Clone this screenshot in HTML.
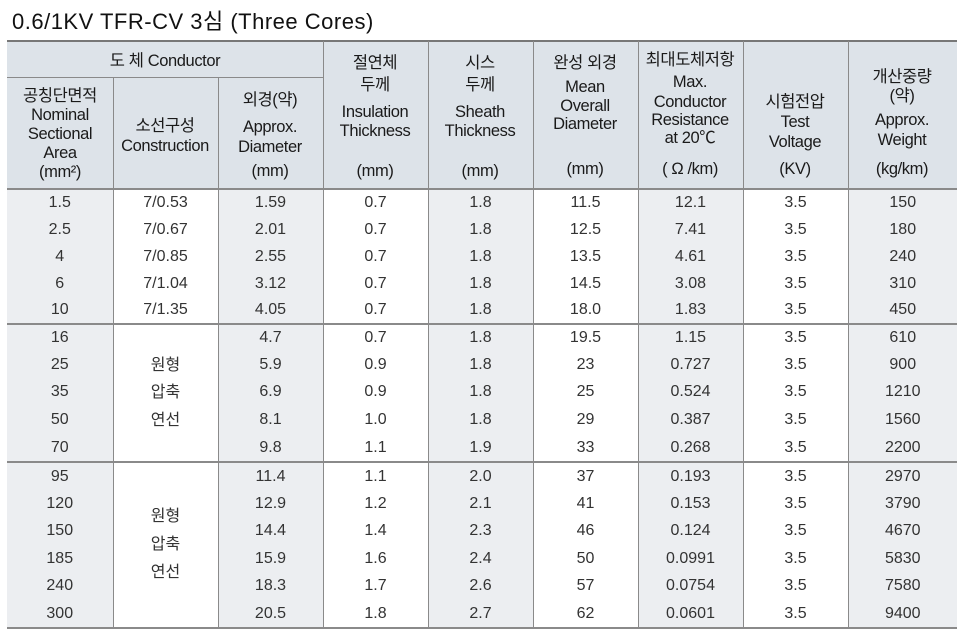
<!DOCTYPE html>
<html><head><meta charset="utf-8"><style>
body{margin:0;width:960px;height:632px;background:#fff;position:relative;overflow:hidden;font-family:"Liberation Sans","Noto Sans CJK KR",sans-serif;color:#222}
.t{position:absolute;left:12px;top:4px;font-size:22px;letter-spacing:0.5px;color:#111;white-space:nowrap}
.hd{position:absolute;left:7px;top:40px;width:950px;height:148px;background:#dde3e9;border-top:2px solid #777;box-sizing:border-box}
.v{position:absolute;width:1px;background:#8a8a8a}
.h{position:absolute;height:1px;background:#8a8a8a}
.l{position:absolute;font-size:16.5px;line-height:18px;transform:translate(-50%,-50%);white-space:nowrap;color:#1a1a1a;letter-spacing:-0.4px}
table{position:absolute;left:7px;top:188px;width:950px;border-collapse:collapse;table-layout:fixed;font-size:16px;color:#333}
td{text-align:center;padding:0;border-left:1px solid #8a8a8a;line-height:18px}
td:first-child{border-left:none}
tbody{border-top:2px solid #8a8a8a}
tbody:last-child{border-bottom:2px solid #8a8a8a}
.g{background:#eceef1}
</style></head><body>
<div class="t">0.6/1KV TFR-CV 3심 (Three Cores)</div>
<div class="hd"></div>
<div class="h" style="left:7px;top:77px;width:316px"></div>
<div class="v" style="left:113px;top:77px;height:111px"></div>
<div class="v" style="left:218px;top:77px;height:111px"></div>
<div class="v" style="left:323px;top:41px;height:147px"></div>
<div class="v" style="left:428px;top:41px;height:147px"></div>
<div class="v" style="left:533px;top:41px;height:147px"></div>
<div class="v" style="left:638px;top:41px;height:147px"></div>
<div class="v" style="left:743px;top:41px;height:147px"></div>
<div class="v" style="left:848px;top:41px;height:147px"></div>

<div class="l" style="left:165px;top:61px">도 체 Conductor</div>
<div class="l" style="left:60px;top:96px">공칭단면적</div>
<div class="l" style="left:60px;top:115px">Nominal</div>
<div class="l" style="left:60px;top:134px">Sectional</div>
<div class="l" style="left:60px;top:153px">Area</div>
<div class="l" style="left:60px;top:172px">(mm²)</div>
<div class="l" style="left:165px;top:126px">소선구성</div>
<div class="l" style="left:165px;top:146px">Construction</div>
<div class="l" style="left:270px;top:100px">외경(약)</div>
<div class="l" style="left:270px;top:127px">Approx.</div>
<div class="l" style="left:270px;top:147px">Diameter</div>
<div class="l" style="left:270px;top:171px">(mm)</div>
<div class="l" style="left:375px;top:63px">절연체</div>
<div class="l" style="left:375px;top:85px">두께</div>
<div class="l" style="left:375px;top:112px">Insulation</div>
<div class="l" style="left:375px;top:131px">Thickness</div>
<div class="l" style="left:375px;top:171px">(mm)</div>
<div class="l" style="left:480px;top:63px">시스</div>
<div class="l" style="left:480px;top:85px">두께</div>
<div class="l" style="left:480px;top:112px">Sheath</div>
<div class="l" style="left:480px;top:131px">Thickness</div>
<div class="l" style="left:480px;top:171px">(mm)</div>
<div class="l" style="left:585px;top:63px">완성 외경</div>
<div class="l" style="left:585px;top:87px">Mean</div>
<div class="l" style="left:585px;top:106px">Overall</div>
<div class="l" style="left:585px;top:124px">Diameter</div>
<div class="l" style="left:585px;top:169px">(mm)</div>
<div class="l" style="left:690px;top:60px">최대도체저항</div>
<div class="l" style="left:690px;top:82px">Max.</div>
<div class="l" style="left:690px;top:102px">Conductor</div>
<div class="l" style="left:690px;top:120px">Resistance</div>
<div class="l" style="left:690px;top:138px">at 20℃</div>
<div class="l" style="left:690px;top:169px">( Ω /km)</div>
<div class="l" style="left:795px;top:102px">시험전압</div>
<div class="l" style="left:795px;top:122px">Test</div>
<div class="l" style="left:795px;top:142px">Voltage</div>
<div class="l" style="left:795px;top:169px">(KV)</div>
<div class="l" style="left:902px;top:77px">개산중량</div>
<div class="l" style="left:902px;top:96px">(약)</div>
<div class="l" style="left:902px;top:120px">Approx.</div>
<div class="l" style="left:902px;top:140px">Weight</div>
<div class="l" style="left:902px;top:169px">(kg/km)</div>

<table>
<colgroup><col class="g" style="width:106px"><col style="width:105px"><col class="g" style="width:105px"><col style="width:105px"><col class="g" style="width:105px"><col style="width:105px"><col class="g" style="width:105px"><col style="width:105px"><col class="g" style="width:109px"></colgroup>
<tbody>
<tr style="height:27px"><td>1.5</td><td>7/0.53</td><td>1.59</td><td>0.7</td><td>1.8</td><td>11.5</td><td>12.1</td><td>3.5</td><td>150</td></tr>
<tr style="height:27px"><td>2.5</td><td>7/0.67</td><td>2.01</td><td>0.7</td><td>1.8</td><td>12.5</td><td>7.41</td><td>3.5</td><td>180</td></tr>
<tr style="height:27px"><td>4</td><td>7/0.85</td><td>2.55</td><td>0.7</td><td>1.8</td><td>13.5</td><td>4.61</td><td>3.5</td><td>240</td></tr>
<tr style="height:27px"><td>6</td><td>7/1.04</td><td>3.12</td><td>0.7</td><td>1.8</td><td>14.5</td><td>3.08</td><td>3.5</td><td>310</td></tr>
<tr style="height:27px"><td>10</td><td>7/1.35</td><td>4.05</td><td>0.7</td><td>1.8</td><td>18.0</td><td>1.83</td><td>3.5</td><td>450</td></tr>
</tbody>
<tbody>
<tr style="height:27px"><td>16</td><td rowspan="5" style="line-height:27.5px">원형<br>압축<br>연선</td><td>4.7</td><td>0.7</td><td>1.8</td><td>19.5</td><td>1.15</td><td>3.5</td><td>610</td></tr>
<tr style="height:27px"><td>25</td><td>5.9</td><td>0.9</td><td>1.8</td><td>23</td><td>0.727</td><td>3.5</td><td>900</td></tr>
<tr style="height:28px"><td>35</td><td>6.9</td><td>0.9</td><td>1.8</td><td>25</td><td>0.524</td><td>3.5</td><td>1210</td></tr>
<tr style="height:28px"><td>50</td><td>8.1</td><td>1.0</td><td>1.8</td><td>29</td><td>0.387</td><td>3.5</td><td>1560</td></tr>
<tr style="height:28px"><td>70</td><td>9.8</td><td>1.1</td><td>1.9</td><td>33</td><td>0.268</td><td>3.5</td><td>2200</td></tr>
</tbody>
<tbody>
<tr style="height:28px"><td>95</td><td rowspan="6" style="line-height:28px">원형<br>압축<br>연선</td><td>11.4</td><td>1.1</td><td>2.0</td><td>37</td><td>0.193</td><td>3.5</td><td>2970</td></tr>
<tr style="height:27px"><td>120</td><td>12.9</td><td>1.2</td><td>2.1</td><td>41</td><td>0.153</td><td>3.5</td><td>3790</td></tr>
<tr style="height:28px"><td>150</td><td>14.4</td><td>1.4</td><td>2.3</td><td>46</td><td>0.124</td><td>3.5</td><td>4670</td></tr>
<tr style="height:27px"><td>185</td><td>15.9</td><td>1.6</td><td>2.4</td><td>50</td><td>0.0991</td><td>3.5</td><td>5830</td></tr>
<tr style="height:28px"><td>240</td><td>18.3</td><td>1.7</td><td>2.6</td><td>57</td><td>0.0754</td><td>3.5</td><td>7580</td></tr>
<tr style="height:28px"><td>300</td><td>20.5</td><td>1.8</td><td>2.7</td><td>62</td><td>0.0601</td><td>3.5</td><td>9400</td></tr>
</tbody>
</table>
</body></html>
